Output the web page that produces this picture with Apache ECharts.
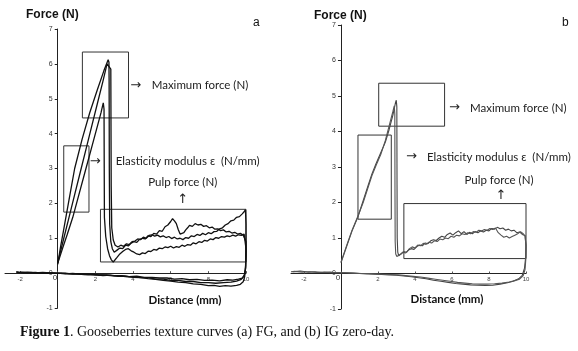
<!DOCTYPE html>
<html>
<head>
<meta charset="utf-8">
<script src="https://cdn.jsdelivr.net/npm/echarts@6/dist/echarts.min.js"></script>
<style>
  html, body { margin: 0; padding: 0; background: #fff; }
  #chart { width: 578px; height: 351px; }
</style>
</head>
<body>
<div id="chart"></div>
<script>
// tick labels
const xTicks = [-2, 0, 2, 4, 6, 8, 10];

// (a) FG: three penetration curves [distance mm, force N], loading -> pulp -> withdrawal
const fgCurve1 = [[0,0.25],[0.15,0.75],[0.3,1.2],[0.6,2.1],[0.9,3.0],[1.3,3.85],[1.7,4.6],[2.1,5.25],[2.45,5.8],[2.68,6.12],[2.72,6.05],[2.73,5.5],[2.74,3.0],[2.76,1.4],[2.82,0.9],[2.9,0.7],[3.0,0.6],[3.15,0.66],[3.3,0.72],[3.45,0.7],[3.6,0.8],[3.75,0.78],[3.9,0.86],[4.05,0.9],[4.2,0.88],[4.35,0.97],[4.5,1.0],[4.65,0.98],[4.8,1.07],[4.95,1.05],[5.1,1.14],[5.25,1.12],[5.4,1.22],[5.55,1.2],[5.7,1.33],[5.85,1.38],[6.0,1.48],[6.1,1.56],[6.2,1.5],[6.3,1.42],[6.4,1.25],[6.5,1.12],[6.6,1.08],[6.7,1.16],[6.8,1.24],[6.9,1.3],[7.0,1.37],[7.15,1.34],[7.3,1.42],[7.45,1.38],[7.6,1.4],[7.75,1.34],[7.9,1.36],[8.05,1.3],[8.2,1.32],[8.35,1.26],[8.5,1.27],[8.65,1.22],[8.8,1.24],[8.95,1.18],[9.1,1.2],[9.25,1.15],[9.4,1.17],[9.55,1.12],[9.7,1.14],[9.85,1.09],[9.95,1.1],[10.0,0.9],[10.0,0.5],[9.98,0.15],[9.92,-0.05],[9.8,-0.14],[9.6,-0.17],[9.3,-0.2],[9.0,-0.19],[8.6,-0.22],[8.2,-0.2],[7.8,-0.21],[7.4,-0.18],[7.0,-0.19],[6.6,-0.16],[6.2,-0.17],[5.8,-0.14],[5.4,-0.14],[5.0,-0.12],[4.6,-0.12],[4.2,-0.09],[3.8,-0.1],[3.4,-0.07],[3.0,-0.08],[2.6,-0.05],[2.2,-0.06],[1.8,-0.03],[1.4,-0.04],[1.0,-0.02],[0.6,-0.02],[0.2,0.0],[-0.2,0.0],[-0.6,0.01],[-1.0,0.0],[-1.4,0.02],[-1.8,0.01],[-2.2,0.02]];
const fgCurve2 = [[0,0.3],[0.3,0.95],[0.6,1.6],[0.9,2.25],[1.2,2.9],[1.5,3.55],[1.8,4.2],[2.1,4.85],[2.4,5.5],[2.62,6.0],[2.7,6.03],[2.82,5.85],[2.84,2.5],[2.87,1.3],[2.95,0.95],[3.05,0.8],[3.2,0.75],[3.35,0.8],[3.5,0.77],[3.65,0.84],[3.8,0.82],[3.95,0.9],[4.1,0.92],[4.25,0.98],[4.4,0.96],[4.55,1.03],[4.7,1.0],[4.85,1.08],[5.0,1.1],[5.15,1.06],[5.3,1.09],[5.45,1.04],[5.6,1.07],[5.75,1.02],[5.9,1.05],[6.05,0.99],[6.2,1.03],[6.35,0.98],[6.5,1.0],[6.65,0.96],[6.8,1.02],[6.95,1.0],[7.1,1.07],[7.25,1.05],[7.4,1.11],[7.55,1.08],[7.7,1.14],[7.85,1.1],[8.0,1.16],[8.15,1.13],[8.3,1.19],[8.45,1.2],[8.6,1.27],[8.75,1.3],[8.9,1.38],[9.05,1.42],[9.2,1.5],[9.35,1.52],[9.5,1.6],[9.65,1.62],[9.8,1.7],[9.9,1.76],[9.97,1.82],[10.0,1.4],[10.0,0.6],[9.97,0.1],[9.9,-0.08],[9.75,-0.18],[9.5,-0.23],[9.2,-0.26],[8.8,-0.27],[8.4,-0.29],[8.0,-0.27],[7.6,-0.27],[7.2,-0.24],[6.8,-0.24],[6.4,-0.21],[6.0,-0.21],[5.6,-0.17],[5.2,-0.17],[4.8,-0.13],[4.4,-0.13],[4.0,-0.1],[3.6,-0.1],[3.2,-0.07],[2.8,-0.07],[2.4,-0.05],[2.0,-0.05],[1.6,-0.03],[1.2,-0.03],[0.8,-0.01],[0.4,-0.02],[0.0,0.0],[-0.4,0.01],[-0.8,0.0],[-1.2,0.02],[-1.6,0.01],[-2.0,0.03]];
const fgCurve3 = [[0,0.28],[0.25,0.7],[0.5,1.1],[0.8,1.6],[1.1,2.2],[1.5,3.0],[1.8,3.6],[2.1,4.2],[2.3,4.6],[2.42,4.88],[2.46,4.7],[2.47,3.0],[2.48,1.6],[2.55,1.05],[2.65,0.7],[2.75,0.5],[2.85,0.38],[2.95,0.32],[3.05,0.36],[3.15,0.45],[3.3,0.55],[3.45,0.62],[3.6,0.68],[3.75,0.7],[3.9,0.64],[4.05,0.6],[4.2,0.55],[4.35,0.53],[4.5,0.58],[4.65,0.56],[4.8,0.63],[4.95,0.62],[5.1,0.68],[5.25,0.66],[5.4,0.72],[5.55,0.7],[5.7,0.75],[5.85,0.73],[6.0,0.77],[6.15,0.72],[6.3,0.76],[6.45,0.74],[6.6,0.8],[6.75,0.77],[6.9,0.82],[7.05,0.8],[7.2,0.87],[7.35,0.84],[7.5,0.9],[7.65,0.88],[7.8,0.94],[7.95,0.92],[8.1,0.98],[8.25,0.96],[8.4,1.02],[8.55,1.0],[8.7,1.05],[8.85,1.03],[9.0,1.07],[9.15,1.05],[9.3,1.09],[9.45,1.06],[9.6,1.1],[9.75,1.08],[9.9,1.12],[9.97,1.1],[10.0,0.7],[9.98,0.2],[9.93,-0.1],[9.85,-0.25],[9.7,-0.32],[9.5,-0.35],[9.2,-0.37],[8.9,-0.36],[8.6,-0.38],[8.3,-0.35],[8.0,-0.36],[7.6,-0.32],[7.2,-0.31],[6.8,-0.27],[6.4,-0.26],[6.0,-0.23],[5.6,-0.21],[5.2,-0.18],[4.8,-0.16],[4.4,-0.13],[4.0,-0.12],[3.6,-0.09],[3.2,-0.09],[2.8,-0.06],[2.4,-0.07],[2.0,-0.04],[1.6,-0.05],[1.2,-0.02],[0.8,-0.03],[0.4,0.0],[0.0,-0.01],[-0.4,0.01],[-0.8,0.02],[-1.2,0.01],[-1.6,0.03],[-2.0,0.02],[-2.2,0.04]];

// (b) IG: two penetration curves
const igCurve1 = [[0,0.3],[0.3,0.75],[0.6,1.2],[0.92,1.6],[1.2,2.05],[1.45,2.45],[1.67,2.8],[1.9,3.1],[2.15,3.4],[2.4,3.7],[2.6,4.05],[2.8,4.45],[2.95,4.82],[2.99,4.88],[3.02,4.7],[3.03,2.5],[3.04,1.0],[3.07,0.6],[3.12,0.5],[3.2,0.52],[3.35,0.6],[3.5,0.58],[3.65,0.66],[3.8,0.7],[3.95,0.68],[4.1,0.76],[4.25,0.8],[4.4,0.78],[4.55,0.86],[4.7,0.84],[4.85,0.92],[5.0,0.95],[5.15,0.93],[5.3,1.0],[5.45,1.05],[5.6,1.02],[5.75,1.1],[5.9,1.14],[6.05,1.08],[6.2,1.15],[6.35,1.2],[6.5,1.12],[6.65,1.18],[6.8,1.1],[6.95,1.16],[7.1,1.12],[7.25,1.18],[7.4,1.15],[7.55,1.2],[7.7,1.17],[7.85,1.22],[8.0,1.2],[8.15,1.27],[8.3,1.25],[8.45,1.3],[8.6,1.26],[8.75,1.28],[8.9,1.22],[9.05,1.25],[9.2,1.2],[9.35,1.22],[9.5,1.15],[9.65,1.17],[9.8,1.1],[9.95,1.07],[10.0,0.8],[9.98,0.45],[9.92,0.15],[9.8,-0.05],[9.6,-0.15],[9.3,-0.22],[9.0,-0.26],[8.6,-0.3],[8.2,-0.33],[7.8,-0.34],[7.4,-0.33],[7.0,-0.32],[6.6,-0.3],[6.2,-0.28],[5.8,-0.25],[5.4,-0.22],[5.0,-0.19],[4.6,-0.15],[4.2,-0.12],[3.8,-0.09],[3.4,-0.07],[3.0,-0.05],[2.6,-0.04],[2.2,-0.03],[1.8,-0.02],[1.4,-0.01],[1.0,0.0],[0.6,0.01],[0.2,0.02],[-0.2,0.02],[-0.6,0.04],[-1.0,0.03],[-1.4,0.05],[-1.8,0.04],[-2.2,0.07],[-2.6,0.05]];
const igCurve2 = [[0,0.32],[0.3,0.78],[0.6,1.22],[0.92,1.62],[1.2,2.0],[1.45,2.4],[1.67,2.75],[1.9,3.05],[2.15,3.35],[2.4,3.75],[2.6,4.15],[2.8,4.55],[2.88,4.72],[2.91,4.5],[2.92,2.2],[2.93,0.9],[2.96,0.55],[3.02,0.48],[3.1,0.5],[3.25,0.55],[3.4,0.62],[3.55,0.6],[3.7,0.7],[3.85,0.75],[4.0,0.72],[4.15,0.8],[4.3,0.78],[4.45,0.85],[4.6,0.82],[4.75,0.88],[4.9,0.86],[5.05,0.92],[5.2,0.9],[5.35,0.97],[5.5,0.95],[5.65,1.0],[5.8,0.98],[5.95,1.05],[6.1,1.02],[6.25,1.08],[6.4,1.06],[6.55,1.12],[6.7,1.1],[6.85,1.15],[7.0,1.12],[7.15,1.18],[7.3,1.16],[7.45,1.22],[7.6,1.2],[7.75,1.24],[7.9,1.22],[8.05,1.27],[8.2,1.24],[8.35,1.28],[8.5,1.15],[8.65,1.08],[8.8,1.02],[8.95,1.05],[9.1,1.0],[9.25,1.04],[9.4,1.08],[9.55,1.12],[9.7,1.18],[9.85,1.12],[9.95,1.05],[10.0,0.75],[9.99,0.4],[9.95,0.12],[9.85,-0.06],[9.65,-0.16],[9.4,-0.2],[9.1,-0.24],[8.7,-0.27],[8.3,-0.29],[7.9,-0.3],[7.5,-0.3],[7.1,-0.29],[6.7,-0.27],[6.3,-0.25],[5.9,-0.22],[5.5,-0.19],[5.1,-0.16],[4.7,-0.13],[4.3,-0.1],[3.9,-0.08],[3.5,-0.06],[3.1,-0.04],[2.7,-0.03],[2.3,-0.02],[1.9,-0.01],[1.5,0.0],[1.1,0.0],[0.7,0.01],[0.3,0.02],[-0.1,0.03],[-0.5,0.02],[-0.9,0.04],[-1.3,0.03],[-1.7,0.05],[-2.1,0.04],[-2.5,0.06],[-2.7,0.05]];

// annotation boxes [x1, y1, x2, y2] in data units: max force, elasticity, pulp
const fgBoxes = [[1.31, 6.34, 3.76, 4.45], [0.32, 3.65, 1.66, 1.75], [2.27, 1.83, 10.14, 0.32]];
const igBoxes = [[2.04, 5.36, 5.6, 4.15], [0.92, 3.9, 2.72, 1.53], [3.4, 1.97, 10.25, 0.42]];

// annotation texts [panel, x, y, text, align]
const notes = [
  [0, 3.85, 5.39, '→', 'left'], [0, 4.99, 5.39, 'Maximum force (N)', 'left'],
  [0, 1.7, 3.21, '→', 'left'], [0, 3.08, 3.21, 'Elasticity modulus ε  (N/mm)', 'left'],
  [0, 6.64, 2.61, 'Pulp force (N)', 'center'], [0, 6.64, 2.1, '↑', 'center'],
  [1, 5.84, 4.66, '→', 'left'], [1, 6.97, 4.66, 'Maximum force (N)', 'left'],
  [1, 3.51, 3.28, '→', 'left'], [1, 4.65, 3.28, 'Elasticity modulus ε  (N/mm)', 'left'],
  [1, 8.54, 2.63, 'Pulp force (N)', 'center'], [1, 8.65, 2.18, '↑', 'center'],
];

const chart = echarts.init(document.getElementById('chart'), null, { renderer: 'canvas' });

const grids = [
  { left: 5, top: 29, width: 241, height: 279, outerBoundsMode: 'none' },
  { left: 291, top: 25, width: 235, height: 284, outerBoundsMode: 'none' },
];
const xMins = [-2.8, -2.7];
const xMax = 10, yMin = -1, yMax = 7;

// axes cross at the origin: shift them with offset so labels travel along
function xAxisFor(i) {
  const g = grids[i];
  return {
    type: 'value', gridIndex: i, min: xMins[i], max: xMax, position: 'bottom',
    offset: -g.height * (0 - yMin) / (yMax - yMin),
    axisLine: { onZero: false, lineStyle: { color: '#222', width: 1 } },
    axisTick: { show: true, length: 2, inside: true, customValues: xTicks, lineStyle: { color: '#555' } },
    axisLabel: { customValues: xTicks, fontSize: 6, color: '#444', margin: 3, fontFamily: 'Liberation Sans',
      formatter: v => (v === 0 ? '' : String(v)) },
    splitLine: { show: false },
  };
}
function yAxisFor(i) {
  const g = grids[i];
  return {
    type: 'value', gridIndex: i, min: yMin, max: yMax, interval: 1, position: 'left',
    offset: -g.width * (0 - xMins[i]) / (xMax - xMins[i]),
    axisLine: { onZero: false, lineStyle: { color: '#222', width: 1 } },
    axisTick: { show: true, length: 3, lineStyle: { color: '#222' } },
    axisLabel: { fontSize: 7, color: '#333', margin: 5, fontFamily: 'Liberation Sans' },
    splitLine: { show: false },
  };
}
function boxArea(boxes) {
  return {
    silent: true,
    itemStyle: { color: 'rgba(0,0,0,0)', borderColor: '#333', borderWidth: 1 },
    data: boxes.map(b => [{ coord: [b[0], b[1]] }, { coord: [b[2], b[3]] }]),
  };
}
function curve(data, i, color, width, extra) {
  return Object.assign({
    type: 'line', xAxisIndex: i, yAxisIndex: i, data: data,
    showSymbol: false, smooth: false, clip: false,
    lineStyle: { color: color, width: width }, z: 3,
  }, extra || {});
}

chart.setOption({
  animation: false,
  backgroundColor: '#fff',
  grid: grids,
  xAxis: [xAxisFor(0), xAxisFor(1)],
  yAxis: [yAxisFor(0), yAxisFor(1)],
  series: [
    curve(fgCurve1, 0, '#111', 1.3, { markArea: boxArea(fgBoxes) }),
    curve(fgCurve2, 0, '#111', 1.3),
    curve(fgCurve3, 0, '#111', 1.3),
    curve(igCurve1, 1, '#444', 1.1, { markArea: boxArea(igBoxes) }),
    curve(igCurve2, 1, '#555', 1.1),
  ],
});

const labelFont = 'Lato, "Liberation Sans", sans-serif';
const graphics = notes.map(n => {
  const p = chart.convertToPixel({ gridIndex: n[0] }, [n[1], n[2]]);
  const isArrow = n[3] === '→' || n[3] === '↑';
  return {
    type: 'text', x: p[0], y: p[1], silent: true,
    style: { text: n[3], fontSize: isArrow ? 13 : 11.5, fontFamily: isArrow ? '"DejaVu Sans"' : labelFont,
      fill: '#222', align: n[4], verticalAlign: 'middle' },
  };
});

graphics.push(
  { type: 'text', x: 26, y: 15, style: { text: 'Force (N)', font: 'bold 12px "Liberation Sans"', fill: '#111', verticalAlign: 'middle' } },
  { type: 'text', x: 314, y: 16, style: { text: 'Force (N)', font: 'bold 12px "Liberation Sans"', fill: '#111', verticalAlign: 'middle' } },
  { type: 'text', x: 253, y: 23, style: { text: 'a', font: '12px "Liberation Sans"', fill: '#111', verticalAlign: 'middle' } },
  { type: 'text', x: 562, y: 23, style: { text: 'b', font: '12px "Liberation Sans"', fill: '#111', verticalAlign: 'middle' } },
  { type: 'text', x: 55, y: 278, style: { text: '0', font: '8px "Liberation Sans"', fill: '#333', align: 'center', verticalAlign: 'middle' } },
  { type: 'text', x: 338, y: 278, style: { text: '0', font: '8px "Liberation Sans"', fill: '#333', align: 'center', verticalAlign: 'middle' } },
  { type: 'text', x: 185, y: 300, style: { text: 'Distance (mm)', font: 'bold 11.5px Lato', fill: '#111', align: 'center', verticalAlign: 'middle' } },
  { type: 'text', x: 447, y: 299, style: { text: 'Distance (mm)', font: 'bold 11.5px Lato', fill: '#111', align: 'center', verticalAlign: 'middle' } },
  { type: 'text', x: 20, y: 332, style: {
      text: '{b|Figure 1}. Gooseberries texture curves (a) FG, and (b) IG zero-day.',
      fontFamily: '"Liberation Serif"', fontSize: 14, fill: '#111', verticalAlign: 'middle',
      rich: { b: { fontWeight: 'bold', fontFamily: '"Liberation Serif"', fontSize: 14, fill: '#111' } } } }
);

chart.setOption({ graphic: graphics });
</script>
</body>
</html>
